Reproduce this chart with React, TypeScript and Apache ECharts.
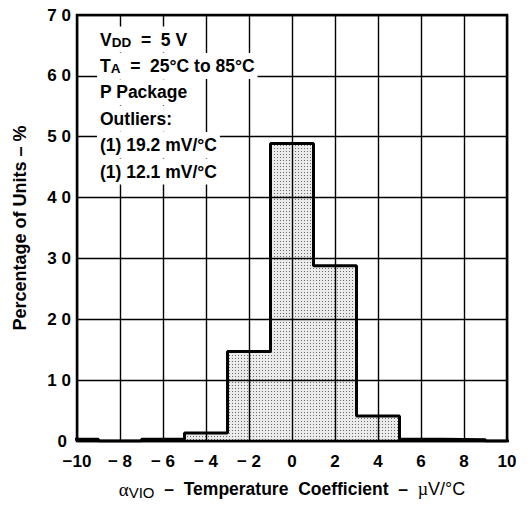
import React, { useEffect, useRef } from "react";
import * as echarts from "echarts";

// Histogram bins: centre of each 2-unit-wide bin (µV/°C) and percentage of units
const binCenters = [-10, -8, -6, -4, -2, 0, 2, 4, 6, 8, 10];
const binPercent = [0.3, 0, 0.3, 1.3, 14.7, 48.9, 28.8, 4.1, 0.3, 0.2, 0];
const binWidth = 2;

const xMin = -10;
const xMax = 10;
const xStep = 2;
const yMin = 0;
const yMax = 70;
const yStep = 10;

const noteLines = [
  "V{s|DD}  =  5 V",
  "T{s|A}  =  25°C to 85°C",
  "P Package",
  "Outliers:",
  "(1) 19.2 mV/°C",
  "(1) 12.1 mV/°C",
];

const xTitle = "{a|α}{s|VIO}{b|  –  Temperature  Coefficient  –  }{c|µ}{d|V/°C}";
const yTitle = "Percentage of Units – %";

const SANS = "'Liberation Sans', Arial, Helvetica, sans-serif";
const SERIF = "'Liberation Serif', 'DejaVu Serif', serif";

export default function App() {
  const ref = useRef<HTMLDivElement>(null);

  useEffect(() => {
    if (!ref.current) return;
    const chart = echarts.init(ref.current, null, { renderer: "svg" });

    const cv = document.createElement("canvas");
    cv.width = 3;
    cv.height = 3;
    const ctx = cv.getContext("2d");
    if (ctx) {
      ctx.fillStyle = "rgba(0,0,0,0.55)";
      ctx.fillRect(1, 1, 1, 1);
    }
    const pattern: any = { image: cv, repeat: "repeat", imageWidth: 3, imageHeight: 3 };

    const binRows = binCenters.map((c, i) => [c - binWidth / 2, c + binWidth / 2, binPercent[i]]);
    const outline = binCenters.flatMap((c, i) => [
      [c - binWidth / 2, binPercent[i]],
      [c + binWidth / 2, binPercent[i]],
    ]);

    const option: any = {
      animation: false,
      backgroundColor: "#fff",
      grid: {
        left: 77,
        right: 21,
        top: 15,
        bottom: 62,
        show: true,
        borderColor: "#000",
        borderWidth: 2.5,
        backgroundColor: "transparent",
      },
      xAxis: {
        type: "value",
        min: xMin,
        max: xMax,
        interval: xStep,
        axisLine: { show: false },
        axisTick: { show: false },
        splitLine: { show: true, lineStyle: { color: "#000", width: 1.4 } },
        axisLabel: {
          margin: 12,
          color: "#000",
          fontFamily: SANS,
          fontWeight: "bold",
          fontSize: 17,
          formatter: (v: number) => (v < 0 ? (v <= -10 ? "−10" : "− " + -v) : String(v)),
        },
        name: xTitle,
        nameLocation: "middle",
        nameGap: 37,
        nameTextStyle: {
          color: "#000",
          rich: {
            a: { fontFamily: SERIF, fontSize: 19, color: "#000", lineHeight: 22 },
            s: {
              fontFamily: SANS,
              fontSize: 15,
              color: "#000",
              lineHeight: 14,
              verticalAlign: "bottom",
            },
            b: { fontFamily: SANS, fontSize: 17.5, fontWeight: "bold", color: "#000", lineHeight: 22 },
            c: { fontFamily: SERIF, fontSize: 18, color: "#000", lineHeight: 22 },
            d: { fontFamily: SANS, fontSize: 18, color: "#000", lineHeight: 22 },
          },
        },
      },
      yAxis: {
        type: "value",
        min: yMin,
        max: yMax,
        interval: yStep,
        axisLine: { show: false },
        axisTick: { show: false },
        splitLine: { show: true, lineStyle: { color: "#000", width: 1.4 } },
        axisLabel: {
          margin: 6,
          color: "#000",
          fontFamily: SANS,
          fontWeight: "bold",
          fontSize: 17,
          formatter: (v: number) => (v === 0 ? "{z|0}" : String(v).split("").join(" ")),
          rich: {
            z: {
              fontFamily: SANS,
              fontWeight: "bold",
              fontSize: 17,
              color: "#000",
              padding: [0, 4, 0, 0],
            },
          },
        },
        name: yTitle,
        nameLocation: "middle",
        nameGap: 48,
        nameTextStyle: {
          color: "#000",
          fontFamily: SANS,
          fontWeight: "bold",
          fontSize: 18,
        },
      },
      series: [
        {
          type: "custom",
          data: binRows,
          encode: { x: [0, 1], y: 2 },
          z: 1,
          renderItem: (params: any, api: any) => {
            const lo = api.value(0);
            const hi = api.value(1);
            const h = api.value(2);
            if (!h) return null;
            const p0 = api.coord([lo, h]);
            const p1 = api.coord([hi, 0]);
            const cs = params.coordSys;
            const shape = echarts.graphic.clipRectByRect(
              { x: p0[0], y: p0[1], width: p1[0] - p0[0], height: p1[1] - p0[1] },
              { x: cs.x, y: cs.y, width: cs.width, height: cs.height }
            );
            if (!shape) return null;
            return {
              type: "group",
              children: [
                { type: "rect", shape, style: { fill: "rgba(0,0,0,0.08)" } },
                { type: "rect", shape, style: { fill: pattern } },
              ],
            };
          },
        },
        {
          type: "line",
          data: outline,
          symbol: "none",
          clip: true,
          z: 5,
          lineStyle: { color: "#000", width: 3 },
        },
      ],
      graphic: noteLines.map((t, i) => ({
        type: "text",
        x: 97,
        y: 39.5 + 26.4 * i,
        z: 100,
        style: {
          text: t,
          fill: "#000",
          fontFamily: SANS,
          fontWeight: "bold",
          fontSize: 17.5,
          lineHeight: 20,
          verticalAlign: "middle",
          align: "left",
          backgroundColor: "#fff",
          padding: [3, 3, 3, 3],
          rich: {
            s: {
              fontFamily: SANS,
              fontWeight: "bold",
              fontSize: 13.5,
              lineHeight: 13,
              verticalAlign: "bottom",
              fill: "#000",
            },
          },
        },
      })),
    };

    chart.setOption(option);
    return () => chart.dispose();
  }, []);

  return (
    <div
      ref={ref}
      style={{ position: "fixed", left: 0, top: 0, width: 528, height: 505 }}
    />
  );
}
